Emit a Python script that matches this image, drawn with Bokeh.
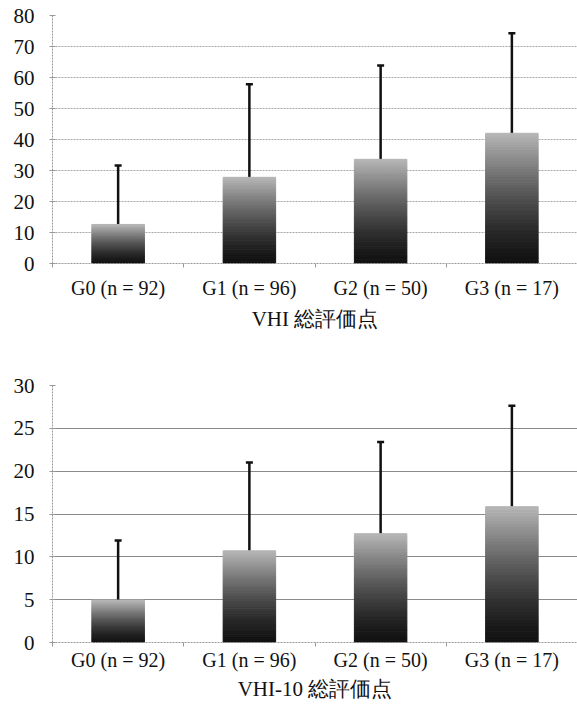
from bokeh.plotting import figure
from bokeh.models import ColumnDataSource, FixedTicker, Whisker, TeeHead, Range1d
from bokeh.layouts import column
from bokeh.embed import file_html
from bokeh.resources import INLINE

# ---- data ----
groups = ["G0 (n = 92)", "G1 (n = 96)", "G2 (n = 50)", "G3 (n = 17)"]
vhi_mean = [12.6, 27.8, 33.6, 42.0]
vhi_sd = [19.0, 30.0, 30.3, 32.3]
vhi10_mean = [4.95, 10.7, 12.7, 15.85]
vhi10_sd = [6.95, 10.3, 10.7, 11.8]
vhi_title = "VHI 総評価点"
vhi10_title = "VHI-10 総評価点"
vhi_ticks = [0, 10, 20, 30, 40, 50, 60, 70, 80]
vhi10_ticks = [0, 5, 10, 15, 20, 25, 30]

SERIF = "Liberation Serif"
W = 577


def make_chart(means, sds, ticks, title, height, top_border, bottom_border,
               label_standoff, title_standoff, grid_color, grid_dash, axis_dash):
    n = len(groups)
    p = figure(width=W, height=height, output_backend="svg", toolbar_location=None,
               x_range=Range1d(0, n), y_range=Range1d(ticks[0], ticks[-1]),
               min_border_left=52, min_border_right=0, min_border_top=top_border,
               min_border_bottom=bottom_border)
    p.outline_line_color = None
    p.background_fill_color = "white"
    p.border_fill_color = "white"

    # gradient bars built from stacked slices of each mean
    N = 48
    xs, bots, tops, cols = [], [], [], []
    for i, m in enumerate(means):
        for k in range(N):
            frac = (k + 0.5) / N
            v = int(18 + 165 * frac ** 1.4)
            xs.append(i + 0.5)
            bots.append(m * k / N)
            tops.append(m * (k + 1) / N)
            cols.append("#%02x%02x%02x" % (v, v, v))
    src = ColumnDataSource(dict(x=xs, bottom=bots, top=tops, color=cols))
    p.vbar(x="x", width=0.4, bottom="bottom", top="top", color="color", source=src)

    # upper error bars
    esrc = ColumnDataSource(dict(
        x=[i + 0.5 for i in range(n)],
        lower=list(means),
        upper=[m + s for m, s in zip(means, sds)],
    ))
    wh = Whisker(base="x", lower="lower", upper="upper", dimension="height",
                 source=esrc, line_color="#111111", line_width=2.5,
                 upper_head=TeeHead(size=7, line_width=2.5, line_color="#111111"),
                 lower_head=None)
    p.add_layout(wh)

    # x axis: labels at centres, small ticks at boundaries
    centers = [i + 0.5 for i in range(n)]
    p.xaxis.ticker = FixedTicker(ticks=centers, minor_ticks=list(range(n + 1)))
    p.xaxis.major_label_overrides = {c: g for c, g in zip(centers, groups)}
    p.xaxis.major_tick_out = 0
    p.xaxis.major_tick_in = 0
    p.xaxis.minor_tick_out = 4
    p.xaxis.minor_tick_in = 0
    p.xaxis.minor_tick_line_color = "#999999"
    p.xaxis.axis_line_color = "#999999"
    p.xaxis.axis_line_dash = axis_dash
    p.xaxis.major_label_text_font = SERIF
    p.xaxis.major_label_text_font_size = "20px"
    p.xaxis.major_label_text_color = "#111111"
    p.xaxis.major_label_standoff = label_standoff
    p.xaxis.axis_label = title
    p.xaxis.axis_label_text_font = SERIF
    p.xaxis.axis_label_text_font_size = "21px"
    p.xaxis.axis_label_text_font_style = "normal"
    p.xaxis.axis_label_text_color = "#111111"
    p.xaxis.axis_label_standoff = title_standoff

    # y axis
    p.yaxis.ticker = FixedTicker(ticks=ticks, minor_ticks=[])
    p.yaxis.major_tick_in = 3
    p.yaxis.major_tick_out = 3
    p.yaxis.major_tick_line_color = "#999999"
    p.yaxis.axis_line_color = "#999999"
    p.yaxis.axis_line_dash = axis_dash
    p.yaxis.major_label_text_font = SERIF
    p.yaxis.major_label_text_font_size = "21px"
    p.yaxis.major_label_text_color = "#111111"
    p.yaxis.major_label_standoff = 15

    p.xgrid.visible = False
    p.ygrid.grid_line_color = grid_color
    p.ygrid.grid_line_dash = grid_dash
    p.ygrid.grid_line_width = 1
    p.ygrid.level = "underlay"
    return p


p1 = make_chart(vhi_mean, vhi_sd, vhi_ticks, vhi_title, 375, 15, 112, 9, 5,
                "#a8a8a8", "2 1", "2 1")
p2 = make_chart(vhi10_mean, vhi10_sd, vhi10_ticks, vhi10_title, 338, 10, 71, 2, 3,
                "#8a8a8a", "solid", "2 1")

layout = column(p1, p2, spacing=0)
open("out.html", "w").write(file_html(layout, INLINE))
